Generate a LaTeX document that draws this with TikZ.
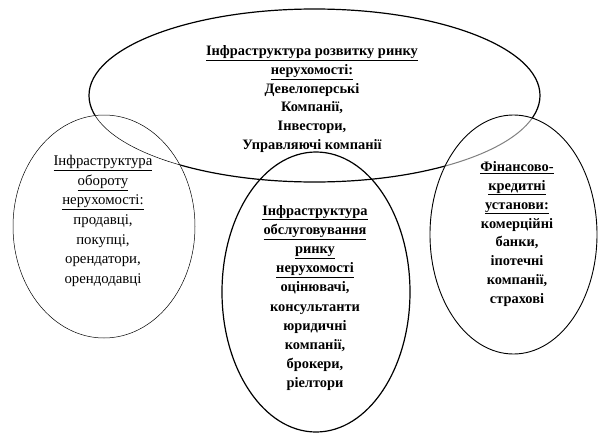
\documentclass[tikz,border=0pt]{standalone}
\usepackage{fontspec}
\setmainfont{Liberation Serif}
\usetikzlibrary{shapes.geometric}

\begin{document}
\begin{tikzpicture}[x=1pt,y=-1pt,
  sphere/.style={ellipse, draw, inner sep=0pt},
  boldtxt/.style={align=center, inner sep=0pt, font=\bfseries\fontsize{14.4}{18.7}\selectfont},
  plaintxt/.style={align=center, inner sep=0pt, font=\fontsize{14.8}{19.7}\selectfont}]
\useasboundingbox (0,0) rectangle (598,434);

% ellipses
\node[sphere, line width=1.2pt, minimum width=451pt, minimum height=173pt] (devel) at (314.5,95.5) {};
\node[sphere, line width=1.2pt, minimum width=188pt, minimum height=280pt] (service) at (316,292) {};

% overlaps: the top ellipse shows thin on the left and grey on the right
\begin{scope}
  \fill[white] (104,226.5) ellipse [x radius=91pt, y radius=111.5pt];
  \clip (104,226.5) ellipse [x radius=91pt, y radius=111.5pt];
  \draw[line width=0.5pt] (devel.center) ellipse [x radius=225.5pt, y radius=86.5pt];
\end{scope}
\begin{scope}
  \fill[white] (513.5,234.5) ellipse [x radius=83.5pt, y radius=119.5pt];
  \clip (513.5,234.5) ellipse [x radius=83.5pt, y radius=119.5pt];
  \draw[gray, line width=1pt] (devel.center) ellipse [x radius=225.5pt, y radius=86.5pt];
\end{scope}

\node[sphere, line width=0.5pt, minimum width=182pt, minimum height=223pt] (turnover) at (104,226.5) {};
\node[sphere, line width=0.9pt, minimum width=167pt, minimum height=239pt] (finance) at (513.5,234.5) {};

% texts
\node[boldtxt] (develtxt) at (312,99)
  {\underline{Інфраструктура розвитку ринку}\\ \underline{нерухомості:}\\ Девелоперські\\ Компанії,\\ Інвестори,\\ Управляючі компанії};
\node[boldtxt, font=\bfseries\fontsize{14.4}{19.2}\selectfont] (servicetxt) at (315,298)
  {\underline{Інфраструктура}\\ \underline{обслуговування}\\ \underline{ринку}\\ \underline{нерухомості}\\ оцінювачі,\\ консультанти\\ юридичні\\ компанії,\\ брокери,\\ ріелтори};
\node[plaintxt] (turnovertxt) at (103,221)
  {\underline{Інфраструктура}\\ \underline{обороту}\\ \underline{нерухомості:}\\ продавці,\\ покупці,\\ орендатори,\\ орендодавці};
\node[boldtxt, font=\bfseries\fontsize{14.4}{18.9}\selectfont] (financetxt) at (517,234)
  {\underline{Фінансово-}\\ \underline{кредитні}\\ \underline{установи:}\\ комерційні\\ банки,\\ іпотечні\\ компанії,\\ страхові};

\end{tikzpicture}
\end{document}
